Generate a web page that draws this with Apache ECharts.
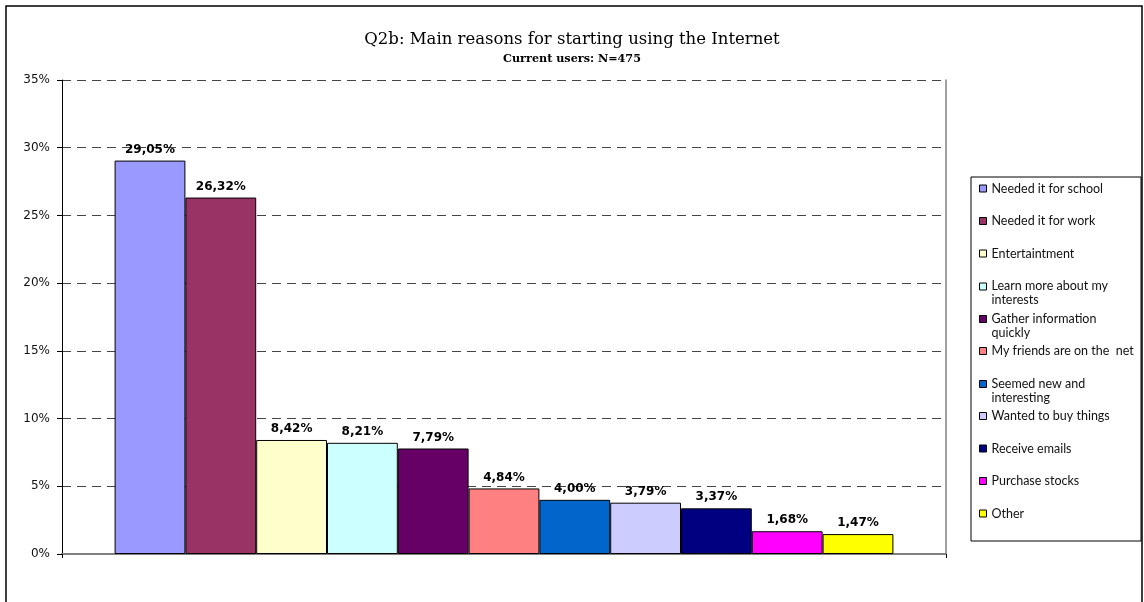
<!DOCTYPE html>
<html>
<head>
<meta charset="utf-8">
<script src="https://cdn.jsdelivr.net/npm/echarts@6/dist/echarts.min.js"></script>
<style>
  html, body { margin: 0; padding: 0; background: #fff; }
  #chart { width: 1144px; height: 602px; }
</style>
</head>
<body>
<div id="chart"></div>
<script>
const reasons = ['Needed it for school', 'Needed it for work', 'Entertaintment', 'Learn more about my interests',
  'Gather information quickly', 'My friends are on the  net', 'Seemed new and interesting',
  'Wanted to buy things', 'Receive emails', 'Purchase stocks', 'Other'];
const legendLines = ['Needed it for school', 'Needed it for work', 'Entertaintment', 'Learn more about my\ninterests',
  'Gather information\nquickly', 'My friends are on the  net', 'Seemed new and\ninteresting',
  'Wanted to buy things', 'Receive emails', 'Purchase stocks', 'Other'];
const shares = [29.05, 26.32, 8.42, 8.21, 7.79, 4.84, 4.00, 3.79, 3.37, 1.68, 1.47];
const colors = ['#9999FF', '#993366', '#FFFFCC', '#CCFFFF', '#660066', '#FF8080',
  '#0066CC', '#CCCCFF', '#000080', '#FF00FF', '#FFFF00'];
const yTicks = [0, 5, 10, 15, 20, 25, 30, 35];

var dom = document.getElementById('chart');
var myChart = echarts.init(dom, null, { renderer: 'canvas' });

// one legend per entry so rows keep even spacing even when a label wraps
var legends = reasons.map(function (name, i) {
  var twoLines = legendLines[i].indexOf('\n') >= 0;
  return {
    orient: 'vertical',
    left: 979,
    top: 181.5 + i * 32.5,
    padding: 0,
    selectedMode: false,
    data: [name],
    formatter: function () { return legendLines[i]; },
    itemWidth: 7,
    itemHeight: twoLines ? 26 : 7,
    icon: twoLines ? 'path://M0,0L0,0M0,3H7V10H0ZM0,26L0,26' : 'rect',
    itemStyle: { borderColor: '#000', borderWidth: 1 },
    textStyle: { fontFamily: 'Lato', fontSize: 12.5, color: '#111', lineHeight: 14 }
  };
});

var series = reasons.map(function (name, i) {
  return {
    name: name,
    type: 'bar',
    barGap: 0,
    barCategoryGap: '11.9%',
    data: [shares[i]],
    itemStyle: { color: colors[i], borderColor: '#000', borderWidth: 1 },
    label: {
      show: true,
      position: 'top',
      distance: 5,
      fontFamily: 'DejaVu Sans',
      fontWeight: 'bold',
      fontSize: 12,
      color: '#000',
      formatter: function (p) { return p.value.toFixed(2).replace('.', ',') + '%'; }
    }
  };
});

var option = {
  animation: false,
  backgroundColor: '#fff',
  title: {
    text: 'Q2b: Main reasons for starting using the Internet',
    subtext: 'Current users: N=475',
    left: 'center',
    top: 30,
    padding: 0,
    itemGap: 2,
    textStyle: { fontFamily: 'DejaVu Serif', fontSize: 16.5, fontWeight: 'normal', color: '#000', lineHeight: 20 },
    subtextStyle: { fontFamily: 'DejaVu Serif', fontSize: 11.2, fontWeight: 'bold', color: '#000', lineHeight: 14 }
  },
  legend: legends,
  grid: { left: 62, right: 198, top: 80, bottom: 48, containLabel: false },
  xAxis: {
    type: 'category',
    data: [''],
    axisLine: { lineStyle: { color: '#808080', width: 2 } },
    axisTick: { show: true, length: 4, lineStyle: { color: '#000' } },
    axisLabel: { show: false }
  },
  yAxis: [{
    type: 'value',
    min: yTicks[0],
    max: yTicks[yTicks.length - 1],
    interval: 5,
    axisLine: { show: true, lineStyle: { color: '#000', width: 1 } },
    axisTick: { show: true, length: 5, lineStyle: { color: '#000' } },
    axisLabel: {
      margin: 12,
      fontFamily: 'DejaVu Sans',
      fontSize: 12,
      color: '#111',
      formatter: '{value}%'
    },
    splitLine: { show: true, lineStyle: { color: '#444', type: [9, 6], width: 1 } }
  }, {
    type: 'value',
    position: 'right',
    min: yTicks[0],
    max: yTicks[yTicks.length - 1],
    interval: 5,
    axisLine: { show: true, lineStyle: { color: '#808080', width: 1.5 } },
    axisTick: { show: false },
    axisLabel: { show: false },
    splitLine: { show: false }
  }],
  series: series,
  graphic: [
    {
      type: 'rect',
      shape: { x: 6, y: 6, width: 1136, height: 640 },
      style: { fill: 'none', stroke: '#000', lineWidth: 1.5 },
      silent: true
    },
    {
      type: 'rect',
      shape: { x: 971, y: 177, width: 170, height: 364 },
      style: { fill: 'none', stroke: '#000', lineWidth: 1 },
      silent: true
    }
  ]
};

myChart.setOption(option);
window.addEventListener('resize', myChart.resize);
</script>
</body>
</html>
